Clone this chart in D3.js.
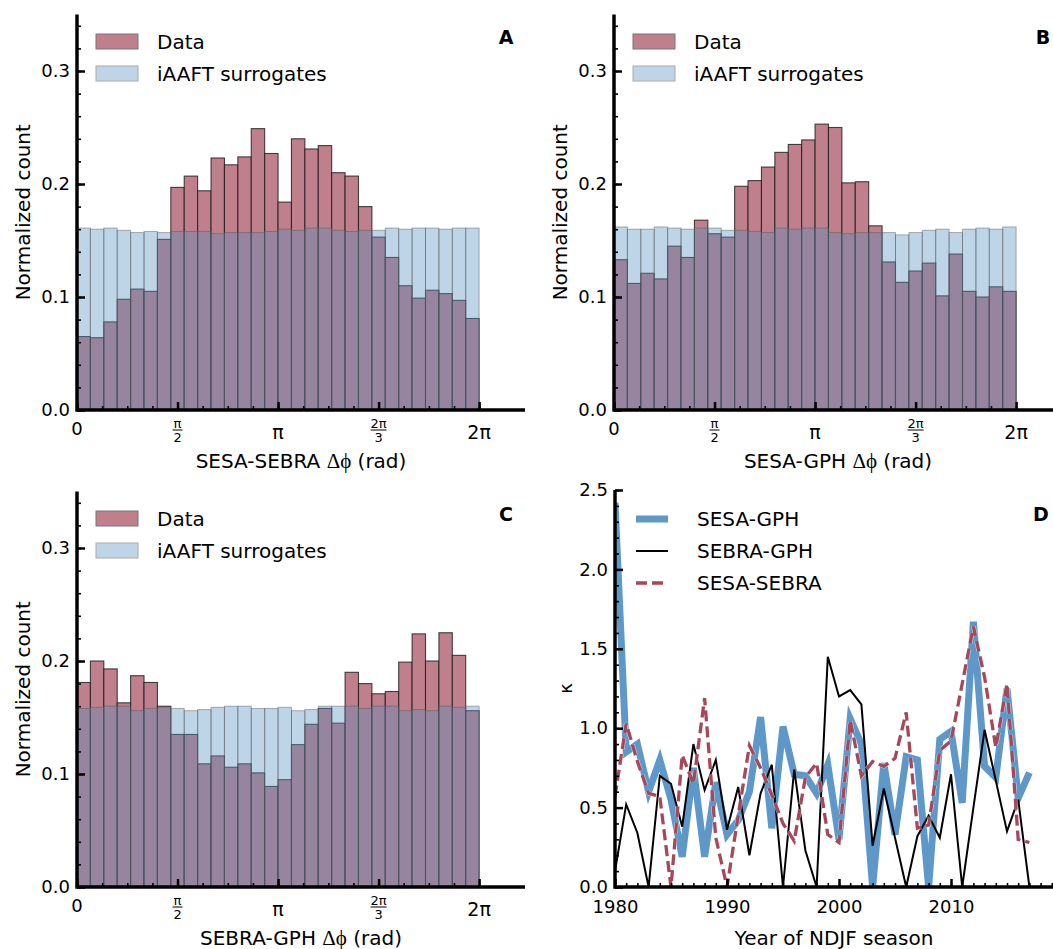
<!DOCTYPE html>
<html><head><meta charset="utf-8">
<script src="https://cdn.jsdelivr.net/npm/d3@7"></script>
<style>
body{margin:0;background:#fff;}
svg{display:block;}
text{font-family:"DejaVu Sans",sans-serif;fill:#000;}
</style></head>
<body>
<script>
// ---------------- DATA ----------------
// Panel A : SESA-SEBRA phase difference (30 bins over 0..2π)
const dataA = [0.065,0.064,0.078,0.098,0.107,0.105,0.151,0.197,0.207,0.194,0.223,0.217,0.224,0.249,0.227,0.184,0.240,0.231,0.234,0.210,0.207,0.180,0.153,0.135,0.110,0.099,0.106,0.103,0.097,0.081];
const surrA = [0.161,0.160,0.161,0.159,0.157,0.158,0.157,0.158,0.158,0.158,0.156,0.157,0.157,0.157,0.158,0.160,0.159,0.161,0.161,0.159,0.158,0.159,0.159,0.161,0.160,0.161,0.161,0.160,0.161,0.161];
// Panel B : SESA-GPH
const dataB = [0.133,0.112,0.121,0.116,0.145,0.135,0.168,0.156,0.153,0.198,0.203,0.215,0.228,0.235,0.239,0.253,0.250,0.201,0.202,0.163,0.131,0.113,0.123,0.130,0.101,0.138,0.105,0.100,0.109,0.105];
const surrB = [0.162,0.160,0.160,0.162,0.161,0.160,0.161,0.161,0.159,0.159,0.158,0.157,0.161,0.160,0.161,0.161,0.157,0.156,0.157,0.157,0.157,0.155,0.157,0.159,0.160,0.157,0.160,0.161,0.160,0.162];
// Panel C : SEBRA-GPH
const dataC = [0.181,0.200,0.193,0.163,0.187,0.181,0.160,0.135,0.135,0.109,0.116,0.106,0.109,0.101,0.089,0.095,0.126,0.144,0.158,0.145,0.190,0.180,0.171,0.173,0.199,0.224,0.200,0.225,0.205,0.156];
const surrC = [0.158,0.159,0.160,0.160,0.156,0.158,0.159,0.158,0.156,0.157,0.159,0.160,0.160,0.158,0.158,0.159,0.156,0.157,0.160,0.160,0.160,0.158,0.160,0.160,0.156,0.157,0.156,0.160,0.159,0.160];
const histLegend = ["Data","iAAFT surrogates"];
const histXLabels = ["SESA-SEBRA","SESA-GPH","SEBRA-GPH"];
const nBins = 30;

// Panel D : kappa per NDJF season
const years = d3.range(1980, 2018);
const sesaGph  = [2.42,0.85,0.90,0.60,0.80,0.55,0.19,0.75,0.19,0.66,0.33,0.42,0.60,1.07,0.37,1.01,0.71,0.70,0.59,0.77,0.30,1.06,0.90,0.00,0.78,0.33,0.82,0.80,0.00,0.93,0.98,0.53,1.67,0.76,0.69,1.25,0.56,0.72];
const sebraGph = [0.10,0.52,0.34,0.00,0.70,0.65,0.38,0.90,0.61,0.80,0.36,0.63,0.20,0.59,0.77,0.00,0.74,0.23,0.00,1.45,1.20,1.24,1.15,0.26,0.62,0.31,0.00,0.32,0.45,0.31,0.71,0.00,0.50,0.99,0.67,0.35,0.55,0.00];
const sesaSebra= [0.57,1.03,0.79,0.59,0.57,0.00,0.83,0.65,1.19,0.31,0.00,0.45,0.89,0.75,0.58,0.40,0.29,0.69,0.78,0.33,0.28,1.05,0.70,0.79,0.76,0.81,1.10,0.37,0.39,0.86,0.92,1.28,1.64,1.32,0.88,1.28,0.30,0.28];
const lineNames = ["SESA-GPH","SEBRA-GPH","SESA-SEBRA"];
const xTicksD = [1980,1990,2000,2010];
const yTicksD = [0,0.5,1.0,1.5,2.0,2.5];
const yTicksH = [0,0.1,0.2,0.3];

// ---------------- DRAW ----------------
const W = 1053, H = 949;
const svg = d3.select("body").append("svg").attr("width", W).attr("height", H);

const RED = "#c07f8c", BLUEFILL = "rgb(84,145,195)";

function drawAxes(g, x, y, xMinor, yMinor) {
  g.append("g").attr("transform", `translate(0,${y.range()[0]})`)
    .call(d3.axisBottom(x).tickValues(xMinor).tickSize(-4).tickFormat(""))
    .call(s => s.select(".domain").remove())
    .selectAll("line").attr("stroke","#000").attr("stroke-width",1.6);
  g.append("g").attr("transform", `translate(${x.range()[0]},0)`)
    .call(d3.axisLeft(y).tickValues(yMinor).tickSize(-4).tickFormat(""))
    .call(s => s.select(".domain").remove())
    .selectAll("line").attr("stroke","#000").attr("stroke-width",1.6);
}

function histPanel(opts) {
  const {left, right, top, bottom, data, surr, letter, xname} = opts;
  const g = svg.append("g");
  const x = d3.scaleLinear().domain([0, 7.0]).range([left, right]);
  const y = d3.scaleLinear().domain([0, 0.35]).range([bottom, bottom - 0.35*1130]);
  const bw = 2*Math.PI/nBins;
  g.selectAll(".d").data(data).join("rect")
    .attr("x", (d,i) => x(i*bw)).attr("width", (d,i) => x((i+1)*bw) - x(i*bw))
    .attr("y", d => y(d)).attr("height", d => y(0) - y(d))
    .attr("fill", RED).attr("stroke", "#1a1a1a").attr("stroke-width", 1.1).attr("stroke-opacity",0.8);
  g.selectAll(".s").data(surr).join("rect")
    .attr("x", (d,i) => x(i*bw)).attr("width", (d,i) => x((i+1)*bw) - x(i*bw))
    .attr("y", d => y(d)).attr("height", d => y(0) - y(d))
    .attr("fill", BLUEFILL).attr("fill-opacity", 0.38)
    .attr("stroke", "#555").attr("stroke-width", 1).attr("stroke-opacity",0.45);
  const xMinor = d3.range(0, 17).map(i => i*Math.PI/8).filter(v => v <= 7.0);
  drawAxes(g, x, y, xMinor, d3.range(0, 0.351, 0.02));
  const xMajor = [0, Math.PI/2, Math.PI, 3*Math.PI/2, 2*Math.PI];
  g.append("g").attr("transform", `translate(0,${bottom})`)
    .call(d3.axisBottom(x).tickValues(xMajor).tickSize(-8).tickFormat(""))
    .call(s => s.select(".domain").remove())
    .selectAll("line").attr("stroke","#000").attr("stroke-width",2.5);
  g.append("g").attr("transform", `translate(${left},0)`)
    .call(d3.axisLeft(y).tickValues(yTicksH).tickSize(-8).tickPadding(7).tickFormat(d3.format(".1f")))
    .call(s => s.select(".domain").remove())
    .call(s => s.selectAll("line").attr("stroke","#000").attr("stroke-width",2.5))
    .call(s => s.selectAll("text").attr("font-size",18).attr("font-family","DejaVu Sans").attr("fill","#000"));
  g.append("line").attr("x1",left).attr("x2",right).attr("y1",bottom).attr("y2",bottom).attr("stroke","#000").attr("stroke-width",3.5);
  g.append("line").attr("x1",left).attr("x2",left).attr("y1",bottom+1.7).attr("y2",y(0.35)).attr("stroke","#000").attr("stroke-width",3.5);
  const serif = "Liberation Serif";
  g.append("text").attr("x", x(0)).attr("y", bottom+25).attr("text-anchor","middle").attr("font-size",18).text("0");
  const fr = (xv, num, den) => {
    g.append("text").attr("x", xv).attr("y", bottom+18).attr("text-anchor","middle").attr("font-family",serif).attr("font-size",13).text(num);
    g.append("line").attr("x1", xv - (num.length>1?8:5)).attr("x2", xv + (num.length>1?8:5)).attr("y1", bottom+20).attr("y2", bottom+20).attr("stroke","#000").attr("stroke-width",1);
    g.append("text").attr("x", xv).attr("y", bottom+32).attr("text-anchor","middle").attr("font-family",serif).attr("font-size",13).text(den);
  };
  fr(x(Math.PI/2), "π", "2");
  g.append("text").attr("x", x(Math.PI)).attr("y", bottom+29).attr("text-anchor","middle").attr("font-family",serif).attr("font-size",19).text("π");
  fr(x(3*Math.PI/2), "2π", "3");
  g.append("text").attr("x", x(2*Math.PI)).attr("y", bottom+29).attr("text-anchor","middle").attr("font-family",serif).attr("font-size",19).text("2π");
  const xl = g.append("text").attr("x", (left + right)/2).attr("y", bottom+58).attr("text-anchor","middle").attr("font-size",20);
  xl.append("tspan").text(xname + " ");
  xl.append("tspan").attr("font-family",serif).attr("font-size",21).text("Δϕ");
  xl.append("tspan").text(" (rad)");
  g.append("text").attr("transform", `translate(${left-47},${(bottom + y(0.35))/2}) rotate(-90)`)
    .attr("text-anchor","middle").attr("font-size",20).text("Normalized count");
  g.append("text").attr("x", left+429).attr("y", top+31).attr("text-anchor","middle").attr("font-weight","bold").attr("font-size",19).text(letter);
  const lx = left + 19;
  g.append("rect").attr("x", lx).attr("y", top+21).attr("width",42).attr("height",15).attr("fill",RED).attr("stroke","#777").attr("stroke-width",1);
  g.append("rect").attr("x", lx).attr("y", top+53).attr("width",42).attr("height",15).attr("fill",BLUEFILL).attr("fill-opacity",0.38).attr("stroke","#aaa").attr("stroke-width",1);
  g.append("text").attr("x", lx+61).attr("y", top+36).attr("font-size",20).text(histLegend[0]);
  g.append("text").attr("x", lx+61).attr("y", top+68).attr("font-size",20).text(histLegend[1]);
}

histPanel({left:77, right:525, top:13, bottom:410, data:dataA, surr:surrA, letter:"A", xname:histXLabels[0]});
histPanel({left:614, right:1062, top:13, bottom:410, data:dataB, surr:surrB, letter:"B", xname:histXLabels[1]});
histPanel({left:77, right:525, top:490, bottom:887, data:dataC, surr:surrC, letter:"C", xname:histXLabels[2]});

// ---- Panel D ----
(function(){
  const left = 615, right = 1063, top = 490, bottom = 887;
  const g = svg.append("g");
  const x = d3.scaleLinear().domain([1980, 2020]).range([left, right]);
  const y = d3.scaleLinear().domain([0, 2.5]).range([bottom, top]);
  svg.append("clipPath").attr("id","clipD").append("rect").attr("x",left).attr("y",top-2).attr("width",right-left).attr("height",bottom-top+2);
  const line = vals => d3.line().x((d,i) => x(years[i])).y(d => y(d))(vals);
  const lg = g.append("g").attr("clip-path","url(#clipD)");
  lg.append("path").attr("d", line(sesaGph)).attr("fill","none").attr("stroke","#5e98c9").attr("stroke-width",7).attr("stroke-linejoin","miter").attr("stroke-miterlimit",4);
  lg.append("path").attr("d", line(sebraGph)).attr("fill","none").attr("stroke","#000").attr("stroke-width",2);
  lg.append("path").attr("d", line(sesaSebra)).attr("fill","none").attr("stroke","#fff").attr("stroke-width",4.5).attr("stroke-dasharray","11,5").attr("stroke-opacity",0.6);
  lg.append("path").attr("d", line(sesaSebra)).attr("fill","none").attr("stroke","#a6475a").attr("stroke-width",3.3).attr("stroke-dasharray","11,5");
  drawAxes(g, x, y, d3.range(1980, 2021, 1), d3.range(0, 2.51, 0.1));
  g.append("g").attr("transform", `translate(0,${bottom})`)
    .call(d3.axisBottom(x).tickValues(xTicksD).tickSize(-8).tickPadding(13).tickFormat(d3.format("d")))
    .call(s => s.select(".domain").remove())
    .call(s => s.selectAll("line").attr("stroke","#000").attr("stroke-width",2.5))
    .call(s => s.selectAll("text").attr("font-size",18).attr("font-family","DejaVu Sans").attr("fill","#000"));
  g.append("g").attr("transform", `translate(${left},0)`)
    .call(d3.axisLeft(y).tickValues(yTicksD).tickSize(-8).tickPadding(7).tickFormat(d3.format(".1f")))
    .call(s => s.select(".domain").remove())
    .call(s => s.selectAll("line").attr("stroke","#000").attr("stroke-width",2.5))
    .call(s => s.selectAll("text").attr("font-size",18).attr("font-family","DejaVu Sans").attr("fill","#000"));
  g.append("line").attr("x1",left).attr("x2",right).attr("y1",bottom).attr("y2",bottom).attr("stroke","#000").attr("stroke-width",3.5);
  g.append("line").attr("x1",left).attr("x2",left).attr("y1",bottom+1.7).attr("y2",top).attr("stroke","#000").attr("stroke-width",3.5);
  g.append("text").attr("x", (left+right)/2 - 5).attr("y", bottom+58).attr("text-anchor","middle").attr("font-size",20).text("Year of NDJF season");
  g.append("text").attr("transform", `translate(${left-43},${(top+bottom)/2}) rotate(-90)`).attr("text-anchor","middle")
    .attr("font-family","Liberation Serif").attr("font-size",18).text("κ");
  g.append("text").attr("x", 1041).attr("y", top+31).attr("text-anchor","middle").attr("font-weight","bold").attr("font-size",19).text("D");
  const rows = [{c:"#5e98c9", w:7, dash:null},{c:"#000", w:2, dash:null},{c:"#a6475a", w:3.3, dash:"11,5"}];
  rows.forEach((r,i) => {
    const yy = top + 29 + i*32;
    const ln = g.append("line").attr("x1",636).attr("x2",668).attr("y1",yy).attr("y2",yy).attr("stroke",r.c).attr("stroke-width",r.w);
    if (r.dash) ln.attr("stroke-dasharray", r.dash);
    g.append("text").attr("x",697).attr("y",yy+7).attr("font-size",20).text(lineNames[i]);
  });
})();
</script>
</body></html>
